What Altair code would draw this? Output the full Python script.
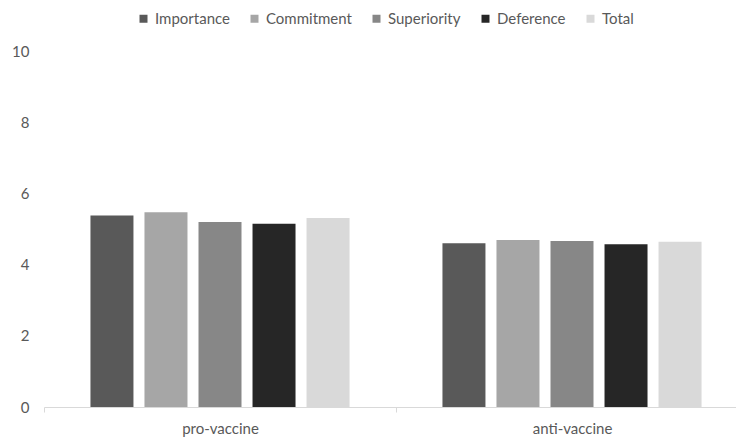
import altair as alt
import pandas as pd

groups = ["pro-vaccine", "anti-vaccine"]
measures = ["Importance", "Commitment", "Superiority", "Deference", "Total"]
pro_values = [5.38, 5.47, 5.20, 5.15, 5.31]
anti_values = [4.60, 4.69, 4.66, 4.57, 4.64]
colors = ["#595959", "#a6a6a6", "#878787", "#262626", "#d9d9d9"]

rows = []
for m, v in zip(measures, pro_values):
    rows.append({"group": groups[0], "measure": m, "value": v})
for m, v in zip(measures, anti_values):
    rows.append({"group": groups[1], "measure": m, "value": v})
df = pd.DataFrame(rows)

FONT = "Lato"
GREY = "#595959"

chart = alt.Chart(df).mark_bar().encode(
    x=alt.X("group:N", sort=groups, title=None,
            scale=alt.Scale(range=[0, 704], paddingInner=0, paddingOuter=0),
            axis=alt.Axis(labelAngle=0, labelFontSize=15, labelColor=GREY, labelFont=FONT,
                          labelPadding=9, domainColor="#d9d9d9", tickColor="#d9d9d9",
                          tickBand="extent", tickSize=5, grid=False)),
    xOffset=alt.XOffset("measure:N", sort=measures,
                        scale=alt.Scale(paddingInner=0.204, paddingOuter=0.86)),
    y=alt.Y("value:Q", title=None,
            scale=alt.Scale(domain=[0, 10]),
            axis=alt.Axis(values=[0, 2, 4, 6, 8, 10], labelFontSize=15, labelColor=GREY,
                          labelFont=FONT, labelPadding=15, domain=False, ticks=False,
                          grid=False)),
    color=alt.Color("measure:N", sort=measures,
                    scale=alt.Scale(domain=measures, range=colors),
                    legend=alt.Legend(title=None, orient="none", direction="horizontal",
                                      legendX=92, legendY=-40, symbolType="square",
                                      symbolSize=64, symbolStrokeWidth=0,
                                      labelFontSize=15, labelColor=GREY, labelFont=FONT,
                                      columnPadding=17, labelOffset=4)),
).properties(
    width=692, height=356,
    autosize=alt.AutoSizeParams(type="none"),
    padding={"left": 44, "top": 51, "right": 0, "bottom": 32},
    background="white",
).configure_view(stroke=None)

chart.save("out.html", embed_options={"renderer": "svg", "actions": False})
